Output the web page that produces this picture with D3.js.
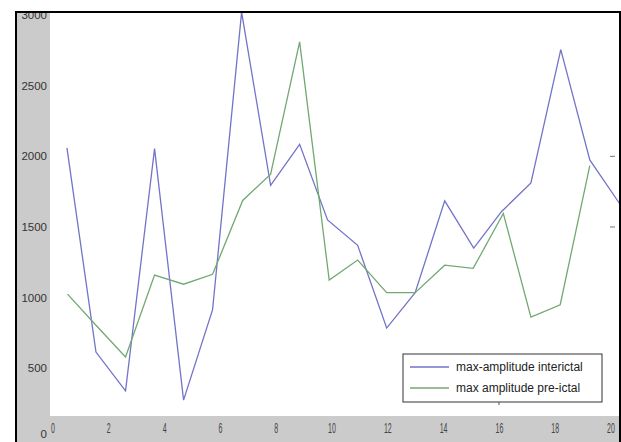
<!DOCTYPE html>
<html>
<head>
<meta charset="utf-8">
<script src="https://cdn.jsdelivr.net/npm/d3@7"></script>
<style>
  html, body { margin: 0; padding: 0; background: #fff; }
  svg { display: block; }
</style>
</head>
<body>
<svg id="chart" width="621" height="442"></svg>
<script>
// Sample positions along the x axis (segment index)
const xInterictal = [0.5, 1.54, 2.6, 3.64, 4.68, 5.72, 6.76, 7.8, 8.84, 9.84, 10.92, 11.96, 12.98, 14.04, 15.08, 16.08, 17.13, 18.2, 19.24, 20.3];
const xPreictal   = [0.52, 1.54, 2.6, 3.64, 4.68, 5.72, 6.8, 7.8, 8.84, 9.9, 10.92, 11.96, 12.98, 14.04, 15.06, 16.14, 17.13, 18.18, 19.24];

// Maximum amplitude per segment
const maxInterictal = [2060, 615, 340, 2055, 275, 915, 3020, 1795, 2085, 1550, 1370, 785, 1035, 1685, 1350, 1610, 1812, 2755, 1975, 1668];
const maxPreictal   = [1025, 805, 580, 1160, 1095, 1165, 1688, 1874, 2810, 1124, 1266, 1035, 1035, 1230, 1207, 1596, 862, 950, 1935];

const seriesNames = ["max-amplitude interictal", "max amplitude pre-ictal"];
const seriesColors = ["#7373c9", "#72a872"];

const xTicks = [0, 2, 4, 6, 8, 10, 12, 14, 16, 18, 20];
const yTicks = [0, 500, 1000, 1500, 2000, 2500, 3000];
const rightTicks = [1500, 2000];

const svg = d3.select("#chart");
const W = 621, H = 442;

// frame and plot region
const frame = { left: 17, top: 13, right: 620 };
const plot = { left: 50, top: 13, right: 620, bottom: 416 };

const x = d3.scaleLinear().domain([0, 20]).range([53, 611]);
const y = d3.scaleLinear().domain([0, 3000]).range([439, 15]);

// grey margins
svg.append("rect").attr("x", frame.left).attr("y", frame.top)
  .attr("width", frame.right - frame.left).attr("height", H - frame.top)
  .attr("fill", "#cbcbcb");
svg.append("rect").attr("x", plot.left).attr("y", plot.top)
  .attr("width", plot.right - plot.left).attr("height", plot.bottom - plot.top)
  .attr("fill", "#ffffff");

const defs = svg.append("defs");
defs.append("clipPath").attr("id", "plotClip")
  .append("rect").attr("x", plot.left).attr("y", frame.top - 1)
  .attr("width", plot.right - plot.left).attr("height", plot.bottom - frame.top + 1);
defs.append("clipPath").attr("id", "frameClip")
  .append("rect").attr("x", 0).attr("y", frame.top).attr("width", W).attr("height", H - frame.top);

// y tick labels
const yAxis = svg.append("g").attr("clip-path", "url(#frameClip)");
yAxis.selectAll("text").data(yTicks).join("text")
  .attr("x", 47).attr("y", d => Math.min(y(d), 434)).attr("dy", "0.35em")
  .attr("text-anchor", "end")
  .attr("font-family", "Liberation Sans, Arial, sans-serif")
  .attr("font-size", 11.5).attr("fill", "#333")
  .text(d => d);

// x tick labels (narrow face)
const xAxis = svg.append("g");
xAxis.selectAll("text").data(xTicks).join("text")
  .attr("transform", d => `translate(${x(d)},428) scale(0.5,1)`)
  .attr("dy", "0.35em")
  .attr("text-anchor", "middle")
  .attr("font-family", "Liberation Sans, Arial, sans-serif")
  .attr("font-size", 14).attr("fill", "#444")
  .text(d => d);

// right-hand tick marks
svg.append("g").selectAll("line").data(rightTicks).join("line")
  .attr("x1", 610).attr("x2", 615)
  .attr("y1", d => y(d)).attr("y2", d => y(d))
  .attr("stroke", "#777").attr("stroke-width", 1);

// series lines
const line = d3.line().x(d => x(d[0])).y(d => y(d[1]));
const series = [
  d3.zip(xInterictal, maxInterictal),
  d3.zip(xPreictal, maxPreictal)
];
svg.append("g").attr("clip-path", "url(#plotClip)")
  .selectAll("path").data(series).join("path")
  .attr("d", line)
  .attr("fill", "none")
  .attr("stroke", (d, i) => seriesColors[i])
  .attr("stroke-width", 1.3)
  .attr("stroke-linejoin", "miter");

// legend
const lg = svg.append("g").attr("transform", "translate(403,354)");
lg.append("rect").attr("width", 199).attr("height", 48)
  .attr("fill", "#fff").attr("stroke", "#333").attr("stroke-width", 1);
seriesNames.forEach((name, i) => {
  const yy = 13 + i * 21;
  lg.append("line").attr("x1", 7).attr("x2", 46).attr("y1", yy).attr("y2", yy)
    .attr("stroke", seriesColors[i]).attr("stroke-width", 1.5);
  lg.append("text").attr("x", 53).attr("y", yy).attr("dy", "0.35em")
    .attr("font-family", "Liberation Sans, Arial, sans-serif")
    .attr("font-size", 12).attr("fill", "#222")
    .text(name);
});
lg.append("line").attr("x1", 96).attr("x2", 96).attr("y1", 48).attr("y2", 51)
  .attr("stroke", "#555");

// black frame
svg.append("line").attr("x1", frame.left - 1).attr("x2", frame.right + 1)
  .attr("y1", frame.top - 1).attr("y2", frame.top - 1)
  .attr("stroke", "#000").attr("stroke-width", 2);
svg.append("line").attr("x1", frame.left - 1).attr("x2", frame.left - 1)
  .attr("y1", frame.top - 2).attr("y2", H)
  .attr("stroke", "#000").attr("stroke-width", 2);
svg.append("line").attr("x1", frame.right).attr("x2", frame.right)
  .attr("y1", frame.top - 2).attr("y2", H)
  .attr("stroke", "#000").attr("stroke-width", 2);
</script>
</body>
</html>
